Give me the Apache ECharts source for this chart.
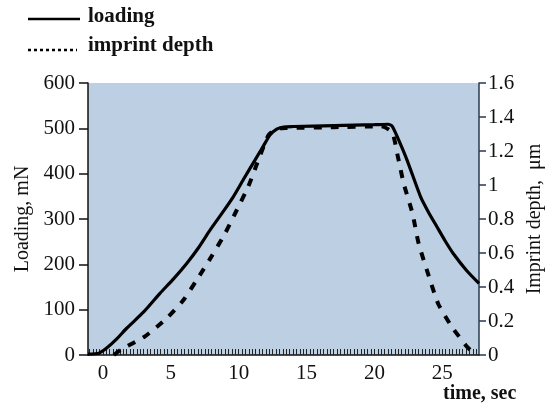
<!DOCTYPE html>
<html>
<head>
<meta charset="utf-8">
<script src="https://cdn.jsdelivr.net/npm/echarts@6/dist/echarts.min.js"></script>
<style>
html,body{margin:0;padding:0;background:#fff;}
#chart{width:547px;height:408px;}
</style>
</head>
<body>
<div id="chart"></div>
<script>
// time (sec) / loading (mN)
const loadingTime = [-1.1,-0.3,0.3,1,1.75,3,4.2,5.2,6.17,7,7.9,8.8,9.6,10.4,11.2,11.8,12.3,12.8,13.3,14,17,20,21,21.3,21.7,22.4,23.4,24,24.6,25.2,25.8,26.8,27.7];
const loadingValues = [2,4,16,35,59,95,136,168,202,235,276,314,349,390,430,460,485,498,503,504,506,508,509,505,480,430,349,314,283,252,224,186,158];
// time (sec) / imprint depth (µm)
const depthTime = [0.8,1.3,3.1,4.7,5.9,6.9,8.0,9.0,9.86,10.7,11.45,12.2,12.8,13.5,17,20.5,21.3,21.7,22.15,22.8,23.25,24.1,24.7,25.7,26.8,27.2];
const depthValues = [0.0,0.03,0.11,0.216,0.32,0.44,0.58,0.716,0.853,0.99,1.147,1.294,1.33,1.335,1.34,1.345,1.31,1.176,1.01,0.833,0.657,0.44,0.30,0.166,0.05,0.02];
const xTickLabels = [0,5,10,15,20,25];
const legendNames = ['loading','imprint depth'];
const leftAxisName = 'Loading, mN';
const rightAxisName = 'Imprint depth,  \u03bcm';
const xAxisName = 'time, sec';

const minorTicks = [];
for (let i = 0; i <= 115; i++) minorTicks.push(-1 + i * 0.25);

const serif = '"Liberation Serif", "DejaVu Serif", serif';
const chart = echarts.init(document.getElementById('chart'));
chart.setOption({
  animation: false,
  grid: {left: 88, right: 68, top: 83, bottom: 53, show: true, backgroundColor: '#bccfe3', borderWidth: 0, containLabel: false, outerBoundsMode: 'none'},
  xAxis: {
    type: 'value', min: -1.1, max: 27.7,
    splitLine: {show: false},
    axisLine: {onZero: false, lineStyle: {color: '#111', width: 1.5}},
    axisTick: {show: true, inside: true, length: 6, customValues: minorTicks, lineStyle: {color: '#222', width: 1}},
    axisLabel: {customValues: xTickLabels, margin: 8, color: '#111', fontSize: 21, fontFamily: serif}
  },
  yAxis: [{
    type: 'value', min: 0, max: 600, interval: 100, position: 'left',
    name: leftAxisName, nameLocation: 'middle', nameGap: 55, nameRotate: 90,
    nameTextStyle: {color: '#111', fontSize: 20, fontFamily: serif},
    splitLine: {show: false},
    axisLine: {show: true, onZero: false, lineStyle: {color: '#111', width: 1.5}},
    axisTick: {show: true, length: 9, lineStyle: {color: '#111', width: 1.5}},
    axisLabel: {margin: 13, color: '#111', fontSize: 21, fontFamily: serif}
  }, {
    type: 'value', min: 0, max: 1.6, interval: 0.2, position: 'right',
    name: rightAxisName, nameLocation: 'middle', nameGap: 46, nameRotate: 90,
    nameTextStyle: {color: '#111', fontSize: 20, fontFamily: serif},
    splitLine: {show: false},
    axisLine: {show: true, onZero: false, lineStyle: {color: '#2b3a4e', width: 1.5}},
    axisTick: {show: true, length: 7, lineStyle: {color: '#2b3a4e', width: 1.5}},
    axisLabel: {margin: 9, color: '#111', fontSize: 21, fontFamily: serif}
  }],
  series: [{
    name: legendNames[0], type: 'line', yAxisIndex: 0, showSymbol: false, smooth: 0.2,
    data: loadingTime.map((t, i) => [t, loadingValues[i]]),
    lineStyle: {color: '#000', width: 3.2}
  }, {
    name: legendNames[1], type: 'line', yAxisIndex: 1, showSymbol: false, smooth: 0.2,
    data: depthTime.map((t, i) => [t, depthValues[i]]),
    lineStyle: {color: '#000', width: 4, type: [8, 9]}
  }],
  graphic: [
    {type: 'line', shape: {x1: 28, y1: 19, x2: 80, y2: 19}, style: {stroke: '#000', lineWidth: 2.5}},
    {type: 'text', left: 88, top: 6, style: {text: legendNames[0], font: 'bold 21px ' + serif, fill: '#111'}},
    {type: 'line', shape: {x1: 28, y1: 50, x2: 77, y2: 50}, style: {stroke: '#000', lineWidth: 2.5, lineDash: [3, 3]}},
    {type: 'text', left: 88, top: 35, style: {text: legendNames[1], font: 'bold 21px ' + serif, fill: '#111'}},
    {type: 'text', left: 443, top: 384, style: {text: xAxisName, font: 'bold 20px ' + serif, fill: '#111'}}
  ]
});
</script>
</body>
</html>
